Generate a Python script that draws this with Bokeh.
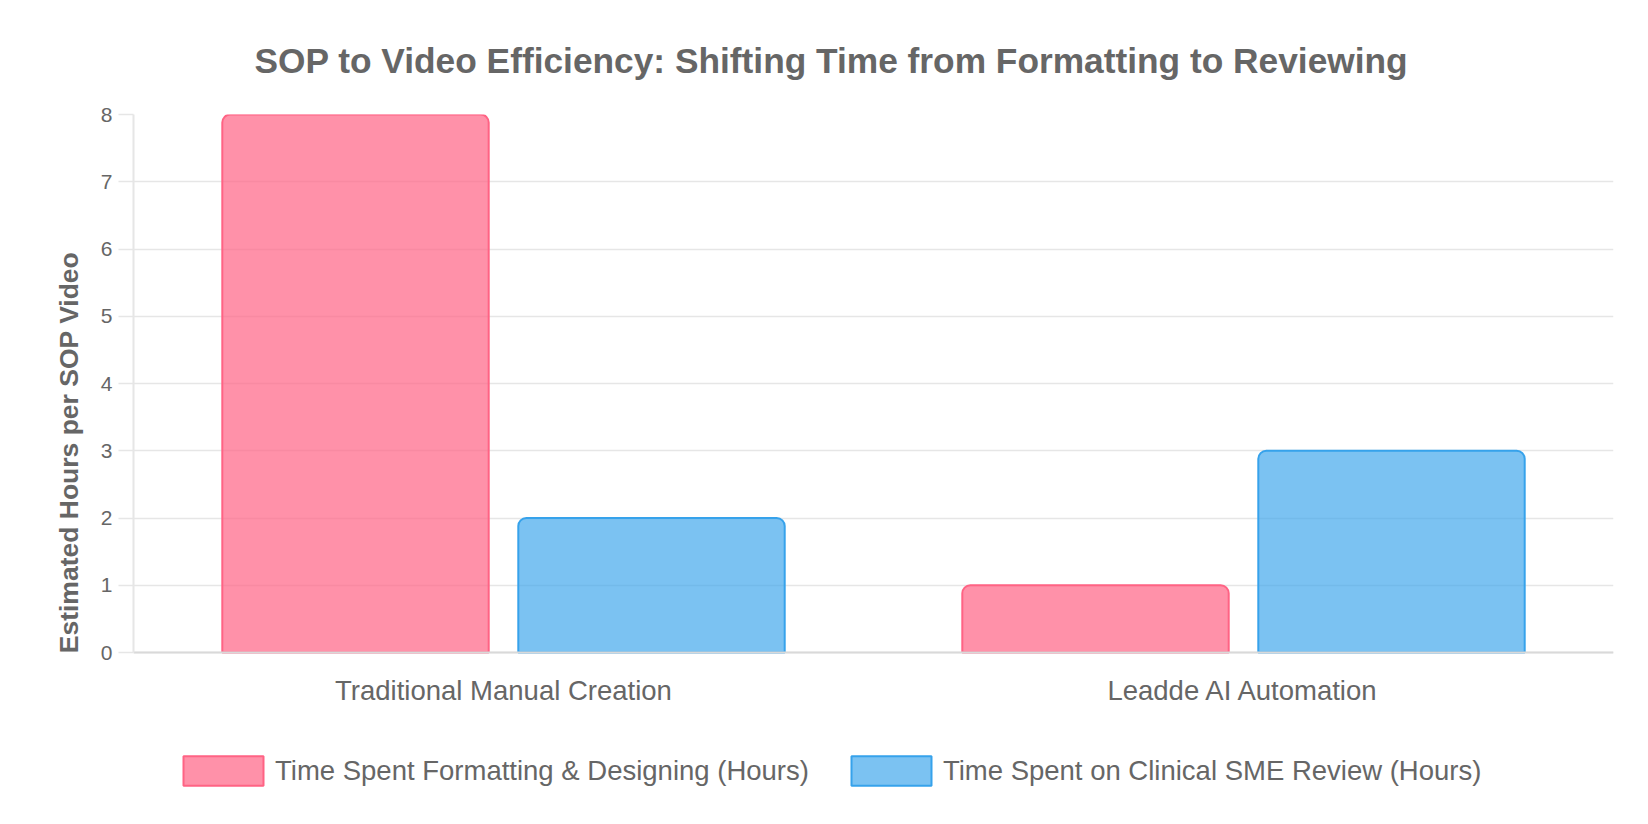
from bokeh.plotting import figure
from bokeh.models import (ColumnDataSource, FactorRange, FixedTicker, Range1d, Legend,
                          LegendItem)
from bokeh.transform import dodge
from bokeh.embed import file_html
from bokeh.resources import INLINE

categories = ["Traditional Manual Creation", "Leadde AI Automation"]
formatting_hours = [8, 1]
review_hours = [2, 3]
y_ticks = [0, 1, 2, 3, 4, 5, 6, 7, 8]
series_names = ["Time Spent Formatting & Designing (Hours)",
                "Time Spent on Clinical SME Review (Hours)"]
title_text = "SOP to Video Efficiency: Shifting Time from Formatting to Reviewing"
y_label = "Estimated Hours per SOP Video"

src = ColumnDataSource(dict(cat=categories, fmt=formatting_hours, rev=review_hours))

FONT = "Liberation Sans"
TXT = "#666666"
GRID = "#e6e6e6"
PINK = "#FF6384"
BLUE = "#36A2EB"

# frame extends below the axis so the legend can sit inside it;
# the value axis is bounded to 0..8 and the category axis is pinned at 0
p = figure(width=1648, height=824, output_backend="svg", toolbar_location=None,
           x_range=FactorRange(factors=categories, range_padding=0),
           y_range=Range1d(-2.052, 8),
           min_border_left=133, min_border_right=35, min_border_top=114,
           min_border_bottom=34)
p.outline_line_color = None
p.background_fill_color = "white"
p.border_fill_color = "white"

r1 = p.vbar(x=dodge("cat", -0.2, range=p.x_range), top="fmt", width=0.36, bottom=0,
            source=src, fill_color=PINK, fill_alpha=0.7, line_color=PINK, line_width=2,
            border_radius=(8, 8, 0, 0))
r2 = p.vbar(x=dodge("cat", 0.2, range=p.x_range), top="rev", width=0.36, bottom=0,
            source=src, fill_color=BLUE, fill_alpha=0.66, line_color=BLUE, line_width=2,
            border_radius=(8, 8, 0, 0))

# title
p.title.text = title_text
p.title.align = "left"
p.title.offset = 121
p.title.text_font = FONT
p.title.text_font_size = "35.3px"
p.title.text_font_style = "bold"
p.title.text_color = TXT
p.title.standoff = 70

# y axis
yax = p.yaxis[0]
yax.ticker = FixedTicker(ticks=y_ticks)
yax.bounds = (0, 8)
yax.axis_label = y_label
yax.axis_label_text_font = FONT
yax.axis_label_text_font_size = "26.5px"
yax.axis_label_text_font_style = "bold"
yax.axis_label_text_color = TXT
yax.axis_label_standoff = 14
yax.major_label_text_font = FONT
yax.major_label_text_font_size = "21px"
yax.major_label_text_color = TXT
yax.major_label_standoff = 6
yax.major_tick_out = 15
yax.major_tick_in = 0
yax.major_tick_line_color = GRID
yax.major_tick_line_width = 1.5
yax.minor_tick_line_color = None
yax.axis_line_color = GRID
yax.axis_line_width = 2

# x axis pinned at value 0
xax = p.xaxis[0]
xax.fixed_location = 0
xax.major_label_text_font = FONT
xax.major_label_text_font_size = "27.5px"
xax.major_label_text_color = TXT
xax.major_label_standoff = 22
xax.major_tick_line_color = None
xax.major_tick_out = 0
xax.major_tick_in = 0
xax.minor_tick_line_color = None
xax.axis_line_color = "#d9d9d9"
xax.axis_line_width = 2

p.xgrid.grid_line_color = None
p.ygrid.grid_line_color = GRID
p.ygrid.grid_line_width = 1.5

# legend (inside the frame, below the category labels)
lg = Legend(items=[LegendItem(label=series_names[0], renderers=[r1]),
                   LegendItem(label=series_names[1], renderers=[r2])],
            orientation="horizontal", location=(40, 1), margin=0, padding=0,
            glyph_width=100, glyph_height=37, label_standoff=2, spacing=32,
            border_line_color=None, background_fill_alpha=0,
            label_text_font=FONT, label_text_font_size="27.5px",
            label_text_color=TXT)
p.add_layout(lg, "center")

open("out.html", "w").write(file_html(p, INLINE))
